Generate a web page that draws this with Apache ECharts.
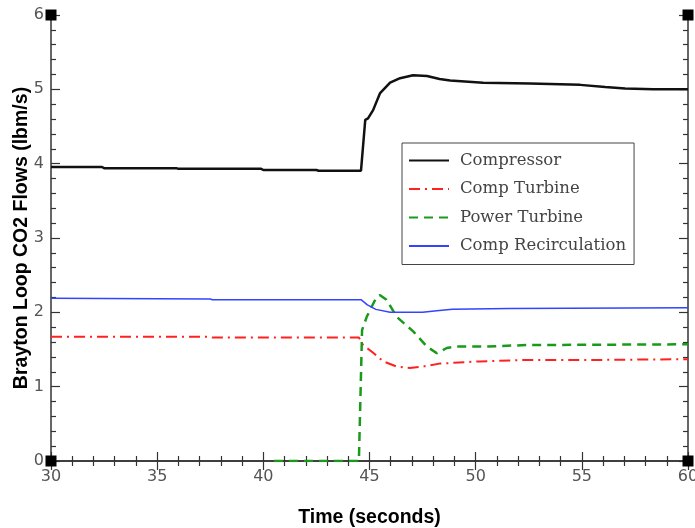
<!DOCTYPE html>
<html>
<head>
<meta charset="utf-8">
<script src="https://cdn.jsdelivr.net/npm/echarts@6/dist/echarts.min.js"></script>
<style>html,body{margin:0;padding:0;background:#fff}#c{width:695px;height:528px}</style>
</head>
<body>
<div id="c"></div>
<script>
var xTicks = [30, 35, 40, 45, 50, 55, 60];
var yTicks = [0, 1, 2, 3, 4, 5, 6];

var compressorT = [30, 32.4, 32.5, 35.9, 36, 39.9, 40, 42.5, 42.6, 44.6, 44.8, 44.93, 45.17, 45.5, 45.97, 46.44, 47.05, 47.71, 48.3, 48.8, 50.35, 52.56, 54.92, 56.1, 57.04, 58.36, 60];
var compressorV = [3.955, 3.955, 3.94, 3.94, 3.93, 3.93, 3.915, 3.915, 3.905, 3.905, 4.59, 4.61, 4.72, 4.95, 5.09, 5.15, 5.19, 5.18, 5.14, 5.12, 5.09, 5.08, 5.06, 5.03, 5.01, 5.0, 5.0];

var compTurbT = [30, 37.5, 37.6, 44.5, 44.7, 45.2, 45.65, 46.28, 46.9, 47.5, 48.3, 50.2, 52.4, 56, 60];
var compTurbV = [1.67, 1.67, 1.66, 1.66, 1.56, 1.45, 1.34, 1.27, 1.25, 1.27, 1.31, 1.34, 1.36, 1.36, 1.37];

var powerTurbT = [40.5, 44.5, 44.65, 44.87, 45.34, 45.5, 45.8, 46.28, 47.07, 47.7, 48.17, 48.64, 49.1, 50.5, 52.4, 60];
var powerTurbV = [0, 0, 1.76, 1.94, 2.21, 2.23, 2.17, 1.94, 1.74, 1.54, 1.45, 1.52, 1.54, 1.54, 1.56, 1.57];

var recircT = [30, 37.5, 37.6, 44.6, 44.9, 45.3, 45.97, 47.5, 48.17, 48.9, 51.6, 60];
var recircV = [2.19, 2.18, 2.17, 2.17, 2.10, 2.04, 2.0, 2.0, 2.02, 2.04, 2.05, 2.06];

var names = ['Compressor', 'Comp Turbine', 'Power Turbine', 'Comp Recirculation'];

function pairs(t, v) { return t.map(function (x, i) { return [x, v[i]]; }); }

var corners = [[xTicks[0], yTicks[0]], [xTicks[0], yTicks[yTicks.length-1]], [xTicks[xTicks.length-1], yTicks[0]], [xTicks[xTicks.length-1], yTicks[yTicks.length-1]]];

var axisLine = {show: true, lineStyle: {color: '#333', width: 1.5}};
var tickStyle = {show: true, inside: true, length: 9, lineStyle: {color: '#333', width: 1.2}};
var minorStyle = {show: true, splitNumber: 5, length: 5, lineStyle: {color: '#333', width: 1.2}};

var chart = echarts.init(document.getElementById('c'));
chart.setOption({
  animation: false,
  backgroundColor: '#fff',
  grid: {left: 51, right: 7, top: 15, bottom: 67, containLabel: false, outerBoundsMode: 'none'},
  legend: {
    data: names,
    orient: 'vertical',
    left: 402, top: 143,
    padding: [9, 8, 10, 6],
    itemWidth: 40, itemHeight: 14, itemGap: 11.5,
    itemStyle: {opacity: 0},
    borderColor: '#444', borderWidth: 1,
    textStyle: {fontFamily: 'DejaVu Serif', fontSize: 16.5, color: '#444', padding: [0, 0, 0, 6], lineHeight: 15}
  },
  xAxis: [
    {type: 'value', min: 30, max: 60, interval: 5, position: 'bottom',
     name: 'Time (seconds)', nameLocation: 'middle', nameGap: 47, nameMoveOverlap: false,
     nameTextStyle: {fontFamily: 'Liberation Sans', fontWeight: 'bold', fontSize: 19.5, color: '#000'},
     axisLine: axisLine, axisTick: tickStyle, minorTick: minorStyle, splitLine: {show: false},
     axisLabel: {fontFamily: 'DejaVu Sans', fontSize: 16, color: '#555', margin: 8}},
    {type: 'value', min: 30, max: 60, interval: 5, position: 'top',
     axisLine: axisLine, axisTick: tickStyle, minorTick: minorStyle, splitLine: {show: false},
     axisLabel: {show: false}}
  ],
  yAxis: [
    {type: 'value', min: 0, max: 6, interval: 1, position: 'left',
     name: 'Brayton Loop CO2 Flows (lbm/s)', nameLocation: 'middle', nameGap: 19, nameMoveOverlap: false,
     nameTextStyle: {fontFamily: 'Liberation Sans', fontWeight: 'bold', fontSize: 19.5, color: '#000'},
     axisLine: axisLine, axisTick: tickStyle, minorTick: minorStyle, splitLine: {show: false},
     axisLabel: {fontFamily: 'DejaVu Sans', fontSize: 16, color: '#555', margin: 7}},
    {type: 'value', min: 0, max: 6, interval: 1, position: 'right',
     axisLine: axisLine, axisTick: tickStyle, minorTick: minorStyle, splitLine: {show: false},
     axisLabel: {show: false}}
  ],
  series: [
    {name: names[0], type: 'line', symbol: 'none', data: pairs(compressorT, compressorV),
     lineStyle: {color: '#111', width: 2.5}, itemStyle: {color: '#111'}, z: 5,
     markPoint: {symbol: 'rect', symbolSize: 11, itemStyle: {color: '#000'}, label: {show: false}, silent: true,
       data: corners.map(function (c) { return {coord: c}; })}},
    {name: names[1], type: 'line', symbol: 'none', data: pairs(compTurbT, compTurbV),
     lineStyle: {color: '#ff2020', width: 2, type: [11, 5, 2, 5]}, itemStyle: {color: '#ff2020'}},
    {name: names[2], type: 'line', symbol: 'none', data: pairs(powerTurbT, powerTurbV),
     lineStyle: {color: '#1a9a1a', width: 2.5, type: [9, 6]}, itemStyle: {color: '#1a9a1a'}},
    {name: names[3], type: 'line', symbol: 'none', data: pairs(recircT, recircV),
     lineStyle: {color: '#3344ff', width: 1.5}, itemStyle: {color: '#3344ff'}}
  ]
});
</script>
</body>
</html>
